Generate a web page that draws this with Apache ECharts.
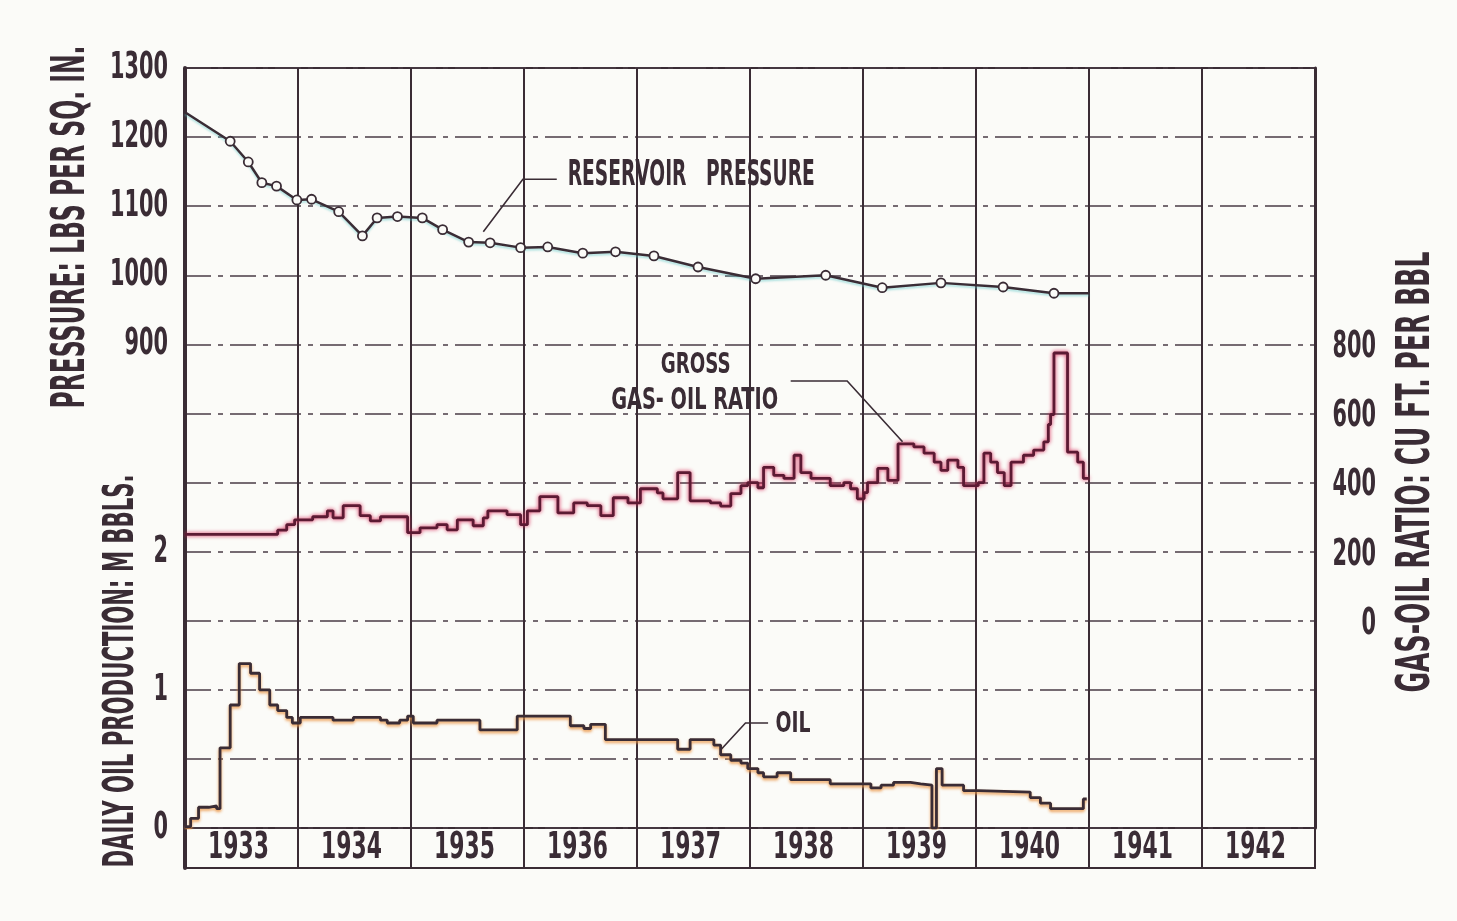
<!DOCTYPE html>
<html>
<head>
<meta charset="utf-8">
<script src="https://cdn.jsdelivr.net/npm/echarts@6/dist/echarts.min.js"></script>
<style>
  html, body { margin: 0; padding: 0; background: #fbfbf8; }
  #main { width: 1457px; height: 921px; }
</style>
</head>
<body>
<div id="main"></div>
<script>
// year columns along the bottom strip
var years = ['1933', '1934', '1935', '1936', '1937', '1938', '1939', '1940', '1941', '1942'];

// tick labels that are printed on each scale
var pressureTicks = [900, 1000, 1100, 1200, 1300];
var oilTicks = [0, 1, 2];
var gorTicks = [0, 200, 400, 600, 800];

// reservoir pressure, lbs per sq. in. [year, value]
var pressure = [
  [1933.00, 1236], [1933.40, 1194], [1933.56, 1164], [1933.68, 1134], [1933.81, 1129],
  [1933.99, 1109], [1934.12, 1110], [1934.36, 1092], [1934.57, 1057], [1934.70, 1083],
  [1934.88, 1085], [1935.10, 1083], [1935.28, 1066], [1935.51, 1048], [1935.70, 1047],
  [1935.97, 1040], [1936.21, 1041], [1936.52, 1032], [1936.81, 1034], [1937.15, 1028],
  [1937.54, 1012], [1938.05, 995], [1938.67, 1000], [1939.17, 982], [1939.69, 989],
  [1940.24, 983], [1940.69, 974], [1941.00, 974]
];

// gross gas-oil ratio, cu ft per bbl [year a level starts, level]
var gasOil = [
  [1933.00, 250], [1933.82, 262], [1933.90, 278], [1933.97, 292], [1934.13, 301],
  [1934.26, 318], [1934.31, 298], [1934.40, 333], [1934.55, 304], [1934.64, 289],
  [1934.73, 301], [1934.97, 255], [1935.08, 269], [1935.23, 278], [1935.32, 263],
  [1935.41, 292], [1935.55, 275], [1935.64, 298], [1935.68, 318], [1935.85, 307],
  [1935.97, 278], [1936.03, 318], [1936.14, 359], [1936.30, 312], [1936.44, 341],
  [1936.56, 333], [1936.68, 304], [1936.79, 356], [1936.92, 341], [1937.03, 382],
  [1937.18, 370], [1937.23, 353], [1937.36, 429], [1937.47, 347], [1937.65, 341],
  [1937.74, 332], [1937.83, 368], [1937.92, 391], [1937.98, 400], [1938.07, 385],
  [1938.12, 444], [1938.21, 421], [1938.30, 412], [1938.39, 479], [1938.45, 429],
  [1938.54, 412], [1938.71, 391], [1938.83, 400], [1938.89, 382], [1938.95, 353],
  [1939.01, 371], [1939.04, 400], [1939.13, 441], [1939.22, 406], [1939.31, 512],
  [1939.45, 503], [1939.54, 485], [1939.63, 459], [1939.69, 435], [1939.75, 465],
  [1939.84, 444], [1939.89, 391], [1940.02, 400], [1940.07, 485], [1940.13, 459],
  [1940.19, 429], [1940.25, 391], [1940.31, 459], [1940.42, 479], [1940.51, 494],
  [1940.60, 518], [1940.64, 568], [1940.66, 597], [1940.69, 775], [1940.78, 775],
  [1940.81, 488], [1940.90, 459], [1940.95, 412], [1941.00, 412]
];

// daily oil production, M bbls [year a level starts, level]
var oil = [
  [1933.00, 0.01], [1933.05, 0.07], [1933.12, 0.15], [1933.21, 0.16], [1933.28, 0.14],
  [1933.31, 0.58], [1933.40, 0.89], [1933.48, 1.19], [1933.58, 1.12], [1933.66, 1.00],
  [1933.75, 0.89], [1933.82, 0.85], [1933.90, 0.80], [1933.95, 0.76], [1934.02, 0.80],
  [1934.31, 0.78], [1934.49, 0.80], [1934.73, 0.78], [1934.79, 0.76], [1934.90, 0.78],
  [1934.97, 0.81], [1935.02, 0.76], [1935.23, 0.78], [1935.61, 0.71], [1935.94, 0.81],
  [1936.41, 0.74], [1936.53, 0.72], [1936.59, 0.75], [1936.72, 0.64], [1937.36, 0.57],
  [1937.47, 0.64], [1937.68, 0.60], [1937.74, 0.53], [1937.83, 0.49], [1937.92, 0.47],
  [1937.98, 0.43], [1938.07, 0.40], [1938.12, 0.37], [1938.24, 0.40], [1938.36, 0.35],
  [1938.71, 0.32], [1939.07, 0.29], [1939.16, 0.31], [1939.27, 0.33], [1939.42, 0.32],
  [1939.51, 0.31], [1939.61, 0.00], [1939.65, 0.43], [1939.70, 0.31], [1939.89, 0.27],
  [1940.02, 0.26], [1940.48, 0.22], [1940.57, 0.18], [1940.66, 0.14], [1940.95, 0.21],
  [1940.98, 0.21]
];

var ink = '#3a2c35';
var font = '"Liberation Sans Narrow", "DejaVu Sans Condensed", sans-serif';

var chart = echarts.init(document.getElementById('main'));

var option = {
  backgroundColor: '#fbfbf8',
  animation: false,
  grid: [
    { left: 185, right: 142, top: 68, bottom: 93, show: true, borderColor: ink, borderWidth: 2 },
    { left: 185, right: 142, top: 828, bottom: 53, show: true, borderColor: ink, borderWidth: 2 }
  ],
  xAxis: [
    {
      gridIndex: 0, type: 'value', min: 1933, max: 1943, interval: 1,
      axisLine: { show: false }, axisTick: { show: false }, axisLabel: { show: false },
      splitLine: { show: true, lineStyle: { color: ink, width: 2 } }
    },
    {
      gridIndex: 1, type: 'category', data: years, boundaryGap: true,
      axisLine: { show: false }, axisTick: { show: false }, axisLabel: { show: false },
      splitLine: { show: true, interval: 0, lineStyle: { color: ink, width: 2 } }
    }
  ],
  yAxis: [
    {
      gridIndex: 0, type: 'value', position: 'left', min: 200, max: 1300, interval: 100,
      axisLine: { show: true, lineStyle: { color: ink, width: 4 } }, axisTick: { show: false },
      axisLabel: { show: false },
      splitLine: { show: true, lineStyle: { color: '#4a3d45', width: 1.5, type: [26, 7, 5, 7] } }
    },
    {
      gridIndex: 0, type: 'value', position: 'left', min: 0, max: 5.5, interval: 1,
      axisLine: { show: false }, axisTick: { show: false }, splitLine: { show: false },
      axisLabel: { show: false }
    },
    {
      gridIndex: 0, type: 'value', position: 'right', min: -600, max: 1600, interval: 200,
      axisLine: { show: true, lineStyle: { color: ink, width: 3 } }, axisTick: { show: false },
      splitLine: { show: false }, axisLabel: { show: false }
    },
    {
      gridIndex: 1, type: 'value', min: 0, max: 1,
      axisLine: { show: true, lineStyle: { color: ink, width: 4 } }, axisTick: { show: false },
      axisLabel: { show: false }, splitLine: { show: false }
    }
  ],
  series: [
    {
      name: 'Reservoir pressure', type: 'line', xAxisIndex: 0, yAxisIndex: 0, z: 5,
      data: pressure.map(function (p, i) {
        return (i === 0 || i === pressure.length - 1) ? { value: p, symbol: 'none' } : { value: p };
      }),
      symbol: 'circle', symbolSize: 9,
      itemStyle: { color: '#fbfbf8', borderColor: ink, borderWidth: 1.8 },
      lineStyle: { color: ink, width: 2.5, shadowColor: 'rgba(90,200,200,0.45)', shadowBlur: 2, shadowOffsetY: 2 }
    },
    {
      name: 'Gross gas-oil ratio', type: 'line', xAxisIndex: 0, yAxisIndex: 2, step: 'end', z: 4,
      data: gasOil, symbol: 'none',
      lineStyle: { color: '#5c1a33', width: 2.8, shadowColor: 'rgba(214,30,80,1)', shadowBlur: 4 }
    },
    {
      name: 'Oil', type: 'line', xAxisIndex: 0, yAxisIndex: 1, step: 'end', z: 4,
      data: oil, symbol: 'none',
      lineStyle: { color: ink, width: 2.8, shadowColor: 'rgba(235,150,70,0.9)', shadowBlur: 3, shadowOffsetY: 2 }
    }
  ]
};
chart.setOption(option);

// condensed lettering: squeeze text horizontally to the width it has in the drawing
var measure = document.createElement('canvas').getContext('2d');
function textWidth(text, size) {
  measure.font = 'bold ' + size + 'px ' + font;
  return measure.measureText(text).width;
}
function squeezed(text, size, sx, cx, cy, rot, align) {
  return {
    type: 'text', x: cx, y: cy, rotation: rot || 0, scaleX: sx, scaleY: 1, z: 10,
    style: {
      text: text, fill: ink, fontSize: size, fontFamily: font, fontWeight: 'bold',
      align: align || 'center', verticalAlign: 'middle',
      textAlign: align || 'center', textVerticalAlign: 'middle'
    }
  };
}
function fitted(text, size, length, cx, cy, rot) {
  return squeezed(text, size, length / textWidth(text, size), cx, cy, rot);
}
function px(pt) { return chart.convertToPixel({ xAxisIndex: 0, yAxisIndex: 0 }, pt); }
function leader(pts) {
  return {
    type: 'polyline', z: 10, shape: { points: pts.map(px) },
    style: { stroke: ink, lineWidth: 1.6, fill: null }
  };
}

var graphics = [];

// tick numbers, placed through the axes
var numSize = 38;
var numScale = 58 / textWidth('1300', numSize);
var leftX = chart.convertToPixel({ xAxisIndex: 0 }, 1933) - 17;
var rightX = chart.convertToPixel({ xAxisIndex: 0 }, 1943) + 61;
pressureTicks.forEach(function (v) {
  graphics.push(squeezed(String(v), numSize, numScale, leftX, chart.convertToPixel({ yAxisIndex: 0 }, v), 0, 'right'));
});
oilTicks.forEach(function (v) {
  graphics.push(squeezed(String(v), numSize, numScale, leftX, chart.convertToPixel({ yAxisIndex: 1 }, v), 0, 'right'));
});
gorTicks.forEach(function (v) {
  graphics.push(squeezed(String(v), numSize, numScale, rightX, chart.convertToPixel({ yAxisIndex: 2 }, v) + 3, 0, 'right'));
});
var stripY = chart.convertToPixel({ yAxisIndex: 3 }, 0.5);
years.forEach(function (y) {
  graphics.push(squeezed(y, numSize, numScale * 1.05, chart.convertToPixel({ xAxisIndex: 1 }, y) - 3, stripY, 0));
});

// axis titles
graphics.push(fitted('PRESSURE: LBS PER SQ. IN.', 46, 363, 72, 227, Math.PI / 2));
graphics.push(fitted('DAILY OIL PRODUCTION: M BBLS.', 43, 393, 122, 671, Math.PI / 2));
graphics.push(fitted('GAS-OIL RATIO: CU FT. PER BBL', 46, 441, 1417, 472, Math.PI / 2));

// curve names with their leader lines
var rp = px([1937.48, 1144]);
var gross = px([1937.52, 870]);
var gor = px([1937.51, 818]);
var oilTxt = px([1938.38, 349]);
graphics.push(fitted('RESERVOIR   PRESSURE', 35, 247, rp[0], rp[1]));
graphics.push(fitted('GROSS', 29, 70, gross[0], gross[1]));
graphics.push(fitted('GAS- OIL RATIO', 31, 167, gor[0], gor[1]));
graphics.push(fitted('OIL', 28, 35, oilTxt[0], oilTxt[1]));
graphics.push(leader([[1936.29, 1139], [1935.99, 1139], [1935.64, 1063]]));
graphics.push(leader([[1938.36, 847], [1938.86, 847], [1939.35, 759]]));
graphics.push(leader([[1938.16, 352], [1937.96, 352], [1937.74, 313]]));

chart.setOption({ graphic: graphics });
</script>
</body>
</html>
